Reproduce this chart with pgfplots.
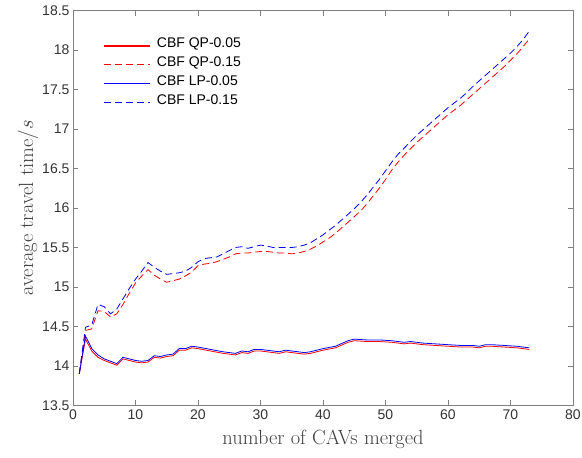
\documentclass[border=0pt]{standalone}
\usepackage{pgfplots}
\pgfplotsset{compat=1.18}
\usepackage{fontspec}
\newfontfamily\arial{Liberation Sans}
\definecolor{axgray}{RGB}{128,128,128}
\definecolor{mred}{RGB}{255,0,0}
\definecolor{mblue}{RGB}{0,0,255}
\begin{document}
\begin{tikzpicture}
\begin{axis}[
  at={(0,0)}, anchor=south west,
  scale only axis,
  width=500pt, height=395pt,
  xmin=0, xmax=80, ymin=13.5, ymax=18.5,
  xtick={0,10,...,80},
  ytick={13.5,14,...,18.5},
  yticklabels={13.5,14,14.5,15,15.5,16,16.5,17,17.5,18,18.5},
  tick align=inside,
  major tick length=5pt,
  axis line style={axgray, line width=0.8pt},
  tick style={axgray, line width=0.8pt},
  /pgf/number format/assume math mode=true,
  tick label style={font=\arial\fontsize{14}{16}\selectfont, text=black!80},
  xticklabel style={yshift=-1pt},
  xlabel={\fontsize{20.5}{22}\selectfont number of CAVs merged},
  ylabel={\fontsize{20.5}{22}\selectfont average travel time/$s$},
  xlabel style={yshift=-3pt, text=black!75},
  ylabel style={yshift=-3pt, text=black!75},
  legend style={draw=none, fill=none, at={(0.055,0.94)}, anchor=north west,
    font=\arial\fontsize{14}{16}\selectfont,
    nodes={text height=11pt, text depth=8pt, inner ysep=0pt},
    /tikz/every odd column/.append style={column sep=4pt}},
  legend cell align=left,
  legend image code/.code={\draw[#1, line width=1.2pt] (0pt,0pt) -- (46pt,0pt);},
]
\addplot[mred, line width=0.8pt] coordinates {
(1,13.90)(2,14.34)(3,14.19)(4,14.11)(5,14.07)(6,14.04)(7,14.01)(8,14.09)(9,14.07)(10,14.05)(11,14.04)(12,14.05)(13,14.11)(14,14.10)(15,14.12)(16,14.13)(17,14.20)(18,14.20)(19,14.23)(20,14.22)(22,14.19)(24,14.16)(26,14.14)(27,14.17)(28,14.16)(29,14.19)(30,14.19)(32,14.17)(33,14.16)(34,14.18)(36,14.16)(37,14.15)(38,14.16)(40,14.20)(42,14.23)(44,14.30)(45,14.32)(47,14.31)(49,14.31)(51,14.30)(53,14.28)(54,14.29)(56,14.27)(58,14.26)(60,14.25)(62,14.24)(64,14.24)(65,14.23)(66,14.25)(67,14.25)(69,14.24)(71,14.23)(73,14.21)
};
\addlegendentry{CBF QP-0.05}
\addplot[mred, line width=0.8pt, dash pattern=on 7pt off 4pt] coordinates {
(1,13.90)(2,14.45)(3,14.47)(4,14.70)(5,14.69)(6,14.62)(7,14.66)(8,14.78)(9,14.92)(10,15.05)(11,15.14)(12,15.22)(13,15.15)(14,15.10)(15,15.06)(16,15.08)(17,15.10)(18,15.14)(19,15.19)(20,15.27)(21,15.29)(22,15.30)(23,15.32)(24,15.35)(25,15.38)(26,15.42)(27,15.43)(28,15.43)(29,15.44)(30,15.45)(31,15.45)(32,15.44)(33,15.43)(34,15.43)(35,15.42)(36,15.43)(37,15.45)(38,15.48)(39,15.52)(40,15.57)(41,15.62)(42,15.68)(43,15.75)(44,15.82)(45,15.89)(46,15.96)(47,16.05)(48,16.15)(49,16.25)(50,16.36)(51,16.48)(52,16.58)(53,16.67)(54,16.75)(55,16.83)(56,16.90)(57,16.97)(58,17.04)(59,17.11)(60,17.18)(61,17.24)(62,17.30)(63,17.37)(64,17.44)(65,17.51)(66,17.58)(67,17.65)(68,17.72)(69,17.79)(70,17.87)(71,17.95)(72,18.04)(73,18.14)
};
\addlegendentry{CBF QP-0.15}
\addplot[mblue, line width=0.8pt] coordinates {
(1,13.90)(2,14.38)(3,14.22)(4,14.14)(5,14.09)(6,14.06)(7,14.03)(8,14.11)(9,14.09)(10,14.07)(11,14.06)(12,14.07)(13,14.13)(14,14.12)(15,14.14)(16,14.15)(17,14.22)(18,14.22)(19,14.25)(20,14.24)(22,14.21)(24,14.18)(26,14.16)(27,14.19)(28,14.18)(29,14.21)(30,14.21)(32,14.19)(33,14.18)(34,14.20)(36,14.18)(37,14.17)(38,14.18)(40,14.22)(42,14.25)(44,14.32)(45,14.34)(47,14.33)(49,14.33)(51,14.32)(53,14.30)(54,14.31)(56,14.29)(58,14.28)(60,14.27)(62,14.26)(64,14.26)(65,14.25)(66,14.27)(67,14.27)(69,14.26)(71,14.25)(73,14.23)
};
\addlegendentry{CBF LP-0.05}
\addplot[mblue, line width=0.8pt, dash pattern=on 7pt off 4pt] coordinates {
(1,13.90)(2,14.49)(3,14.52)(4,14.78)(5,14.75)(6,14.66)(7,14.72)(8,14.85)(9,14.98)(10,15.10)(11,15.20)(12,15.31)(13,15.25)(14,15.20)(15,15.16)(16,15.17)(17,15.18)(18,15.20)(19,15.25)(20,15.32)(21,15.36)(22,15.37)(23,15.38)(24,15.42)(25,15.46)(26,15.50)(27,15.51)(28,15.49)(29,15.51)(30,15.53)(31,15.52)(32,15.50)(33,15.50)(34,15.50)(35,15.50)(36,15.51)(37,15.53)(38,15.56)(39,15.61)(40,15.66)(41,15.72)(42,15.78)(43,15.85)(44,15.92)(45,15.99)(46,16.07)(47,16.16)(48,16.26)(49,16.36)(50,16.47)(51,16.58)(52,16.68)(53,16.76)(54,16.84)(55,16.92)(56,16.99)(57,17.06)(58,17.13)(59,17.20)(60,17.27)(61,17.33)(62,17.39)(63,17.46)(64,17.54)(65,17.61)(66,17.68)(67,17.75)(68,17.82)(69,17.89)(70,17.96)(71,18.04)(72,18.13)(73,18.24)
};
\addlegendentry{CBF LP-0.15}
\end{axis}
\pgfresetboundingbox
\path (-73pt,-52.5pt) rectangle (509pt,405.5pt);
\end{tikzpicture}
\end{document}
